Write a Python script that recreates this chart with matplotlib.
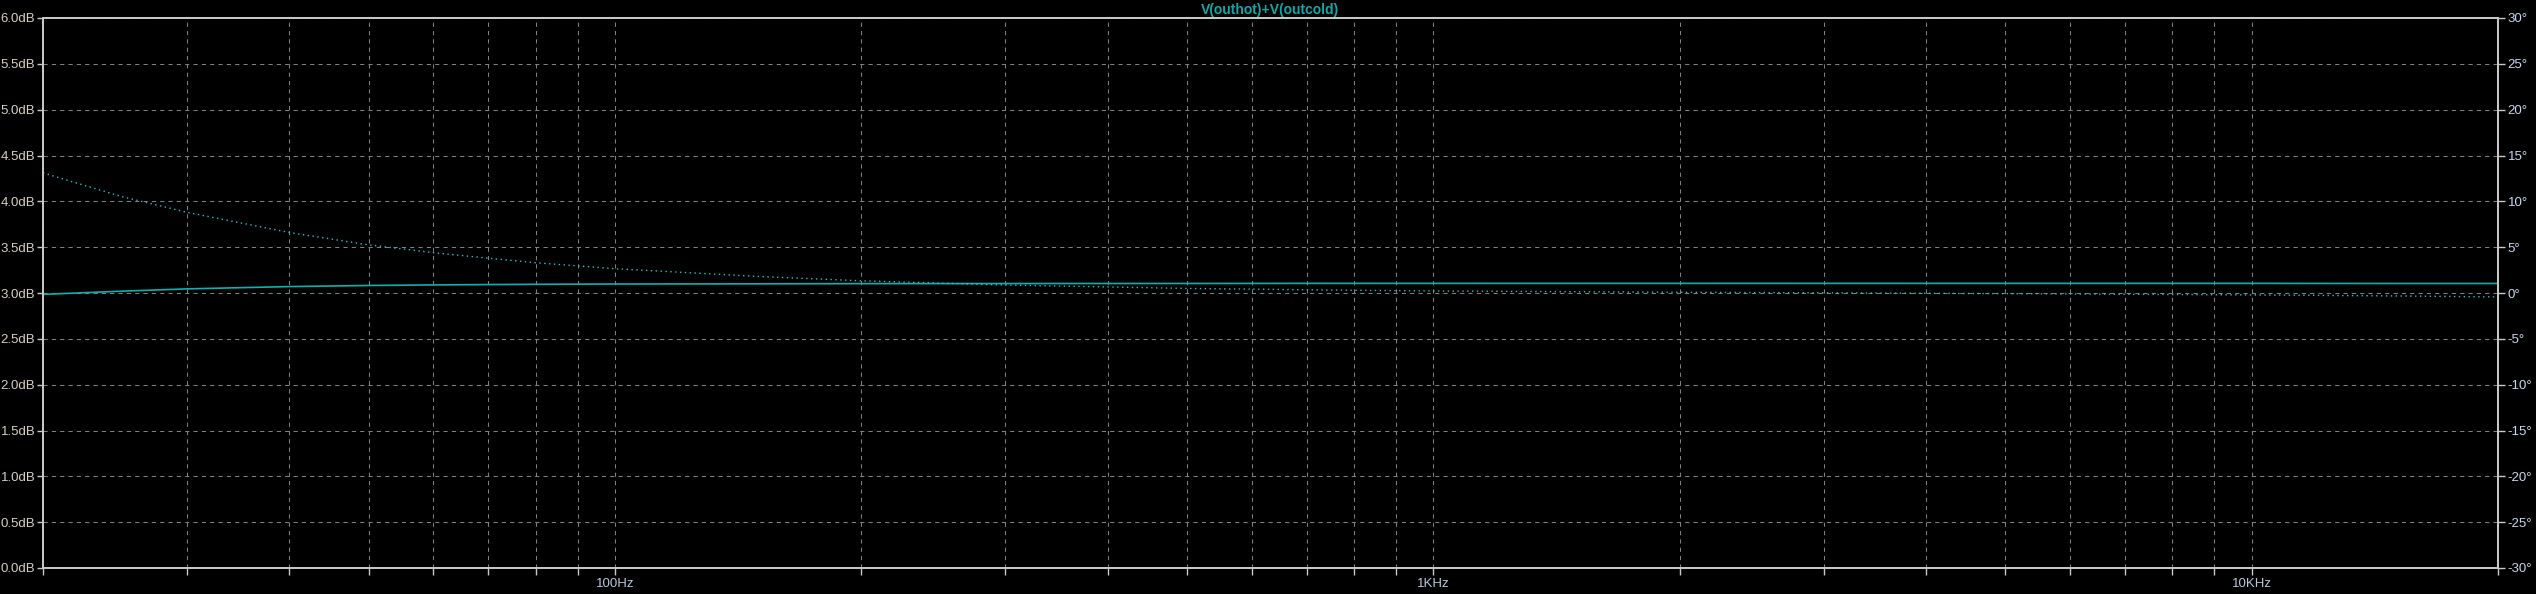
import matplotlib
matplotlib.use('Agg')
import matplotlib.pyplot as plt
from matplotlib.ticker import FixedLocator, FuncFormatter, LogLocator, NullFormatter

# values
freq = [20, 25, 30, 40, 50, 60, 70, 80, 100, 150, 200, 300, 500, 700,
        1000, 2000, 3000, 5000, 7000, 10000, 15000, 20000]
mag_db = [2.985, 3.020, 3.045, 3.070, 3.082, 3.088, 3.092, 3.095, 3.098, 3.100, 3.102, 3.103, 3.104, 3.105,
          3.105, 3.105, 3.105, 3.105, 3.105, 3.105, 3.104, 3.104]
phase_deg = [13.1, 10.5, 8.8, 6.6, 5.25, 4.4, 3.8, 3.3, 2.65, 1.8, 1.33, 0.87, 0.5, 0.35,
             0.22, 0.08, 0.02, -0.07, -0.14, -0.21, -0.32, -0.43]

db_ticks = [i * 0.5 for i in range(13)]
deg_ticks = list(range(-30, 31, 5))
x_labels = {100: '100Hz', 1000: '1KHz', 10000: '10KHz'}

bg = '#000000'
grid_c = '#808080'
axis_c = '#c8c8c8'
trace_c = '#10b0b0'
font = ['Liberation Sans', 'DejaVu Sans']

fig = plt.figure(figsize=(25.36, 5.94), dpi=100, facecolor=bg)
W, H = 2536, 594
ax = fig.add_axes([43 / W, (H - 568) / H, (2498 - 43) / W, (568 - 18) / H])
ax.set_facecolor(bg)
ax2 = ax.twinx()

ax.semilogx(freq, mag_db, color=trace_c, lw=1.2, solid_capstyle='butt')
ax2.semilogx(freq, phase_deg, color='#20c8c8', lw=1.0, linestyle=(0, (1, 2.5)))

ax.set_xlim(20, 20000)
ax.set_ylim(0, 6)
ax2.set_ylim(-30, 30)

ax.xaxis.set_major_locator(FixedLocator(list(x_labels.keys())))
ax.xaxis.set_major_formatter(FuncFormatter(lambda v, p: x_labels.get(int(round(v)), '')))
ax.xaxis.set_minor_locator(LogLocator(base=10, subs=range(2, 10), numticks=20))
ax.xaxis.set_minor_formatter(NullFormatter())

ax.yaxis.set_major_locator(FixedLocator(db_ticks))
ax.yaxis.set_major_formatter(FuncFormatter(lambda v, p: f'{v:.1f}dB'))
ax2.yaxis.set_major_locator(FixedLocator(deg_ticks))
ax2.yaxis.set_major_formatter(FuncFormatter(lambda v, p: f'{int(v)}°'))

grid_kw = dict(color=grid_c, lw=0.75, linestyle=(0, (4, 4)))
ax.grid(True, which='major', axis='both', **grid_kw)
ax.grid(True, which='minor', axis='x', **grid_kw)

for a in (ax, ax2):
    for s in a.spines.values():
        s.set_color(axis_c)
        s.set_linewidth(1.3)

ax.tick_params(axis='y', which='major', direction='out', length=4.5, width=1, color=axis_c,
               labelcolor='#d8d0c0', labelsize=9.5, pad=1)
ax.tick_params(axis='x', which='both', direction='out', length=5, width=1, color=axis_c,
               labelcolor='#b8c8dc', labelsize=9.5, pad=2)
ax2.tick_params(axis='y', which='major', direction='out', length=5, width=1, color=axis_c,
                labelcolor='#c8d8f0', labelsize=9.5, pad=2)

for lbl in ax.get_xticklabels() + ax.get_yticklabels() + ax2.get_yticklabels():
    lbl.set_family(font)

ax.set_title('V(outhot)+V(outcold)', color='#10a8a8', fontsize=10, fontweight='bold',
             family=font, pad=3)

fig.savefig('out.png', dpi=100, facecolor=bg)
